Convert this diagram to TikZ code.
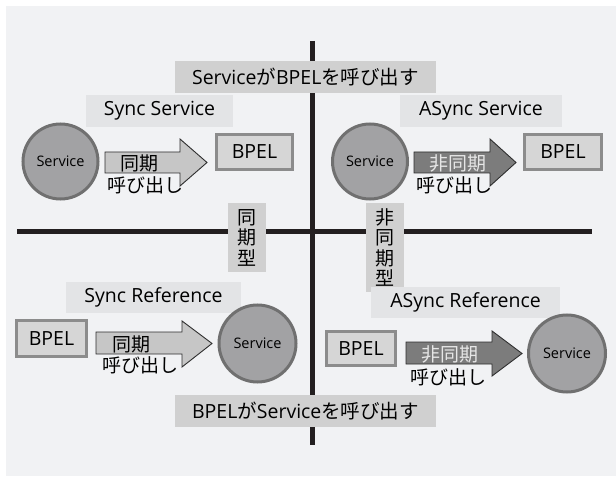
\documentclass[tikz,border=0pt]{standalone}
\usepackage{fontspec}
\setmainfont{Open Sans}
\newfontfamily\jp{Noto Sans CJK JP}
\definecolor{panel}{HTML}{F1F2F4}
\definecolor{axis}{HTML}{231F20}
\definecolor{titlegray}{HTML}{D0D0D0}
\definecolor{labelgray}{HTML}{E3E4E6}
\definecolor{svcfill}{HTML}{A2A2A4}
\definecolor{svcedge}{HTML}{707070}
\definecolor{bpelfill}{HTML}{D6D6D6}
\definecolor{bpeledge}{HTML}{8C8C8C}
\definecolor{arrowlightfill}{HTML}{C6C6C6}
\definecolor{arrowdarkfill}{HTML}{7C7C7C}
\definecolor{arrowedge}{HTML}{2E2E2E}
\definecolor{lighttext}{HTML}{E6E6E6}
\tikzset{
  big/.style={font=\fontsize{19.5}{21}\selectfont, text=black},
  greybox/.style={big, fill=titlegray, inner sep=0pt},
  labelbox/.style={big, fill=labelgray, inner sep=0pt},
  bpelbox/.style={big, draw=bpeledge, line width=3pt, fill=bpelfill, inner sep=0pt},
  svc/.style={circle, draw=svcedge, line width=3pt, fill=svcfill, inner sep=0pt,
    font=\fontsize{14.5}{16}\selectfont},
  blocklight/.style={draw=arrowedge, line width=0.9pt, fill=arrowlightfill, line join=miter},
  blockdark/.style={draw=arrowedge, line width=0.9pt, fill=arrowdarkfill, line join=miter},
  jtext/.style={font=\jp\fontsize{19}{21}\selectfont, inner sep=0pt},
  vlabel/.style={fill=titlegray, inner sep=0pt, align=center,
    font=\jp\fontsize{19}{20.5}\selectfont},
}
\begin{document}
\begin{tikzpicture}[x=1pt, y=-1pt]
  \useasboundingbox (0,0) rectangle (616,489);
  % background panel
  \fill[panel] (6,6) rectangle (616,476);

  % axes
  \coordinate (hl) at (17,232);
  \coordinate (hr) at (592,232);
  \coordinate (vt) at (312,41);
  \coordinate (vb) at (312,445);
  \draw[axis, line width=5pt] (hl) -- (hr);
  \draw[axis, line width=5pt] (vt) -- (vb);

  % headings
  \node[greybox, minimum width=261pt, minimum height=32pt] (toptitle) at (305.5,77)
    {Service{\jp が}BPEL{\jp を呼び出す}};
  \node[greybox, minimum width=261pt, minimum height=32pt] (bottitle) at (305.5,411)
    {BPEL{\jp が}Service{\jp を呼び出す}};
  \node[vlabel, minimum width=38pt, minimum height=69pt] (synclbl) at (247,237.5)
    {同\\期\\型};
  \node[vlabel, minimum width=38pt, minimum height=89pt] (asynclbl) at (385,247.5)
    {非\\同\\期\\型};

  % quadrant labels
  \node[labelbox, minimum width=147pt, minimum height=32pt] (ss) at (159.5,111) {Sync Service};
  \node[labelbox, minimum width=162pt, minimum height=32pt] (as) at (481,111) {ASync Service};
  \node[labelbox, minimum width=175pt, minimum height=31pt] (sr) at (153.5,297.5) {Sync Reference};
  \node[labelbox, minimum width=189pt, minimum height=31pt] (ar) at (465.5,302.5) {ASync Reference};

  % services and BPEL boxes
  \node[svc, minimum size=75pt] (svc1) at (60.5,161.5) {Service};
  \node[svc, minimum size=75pt] (svc2) at (370,161.5) {Service};
  \node[svc, minimum size=77pt] (svc3) at (257.5,343.5) {Service};
  \node[svc, minimum size=77pt] (svc4) at (567,353.5) {Service};
  \node[bpelbox, minimum width=76pt, minimum height=35pt] (bp1) at (254.5,152) {BPEL};
  \node[bpelbox, minimum width=77pt, minimum height=35pt] (bp2) at (563,152) {BPEL};
  \node[bpelbox, minimum width=70pt, minimum height=36pt] (bp3) at (51.5,338.5) {BPEL};
  \node[bpelbox, minimum width=69pt, minimum height=34pt] (bp4) at (361,348.5) {BPEL};

  % block arrows
  \draw[blocklight] (105,152) -- (180,152) -- (180,139) -- (207,162.5)
    -- (180,186) -- (180,173) -- (105,173) -- cycle;
  \draw[blockdark] (414,152) -- (490,152) -- (490,139) -- (516,162.5)
    -- (490,186) -- (490,173) -- (414,173) -- cycle;
  \draw[blocklight] (96,332) -- (182,332) -- (182,321) -- (212,343.5)
    -- (182,367) -- (182,354) -- (96,354) -- cycle;
  \draw[blockdark] (406,342) -- (492,342) -- (492,331) -- (522,353.5)
    -- (492,376) -- (492,364) -- (406,364) -- cycle;

  % arrow captions
  \node[jtext] (c1a) at (139,163) {同期};
  \node[jtext] (c1b) at (145,185) {呼び出し};
  \node[jtext, text=lighttext] (c2a) at (458,163) {非同期};
  \node[jtext] (c2b) at (454.5,185) {呼び出し};
  \node[jtext] (c3a) at (131,344) {同期};
  \node[jtext] (c3b) at (140,365) {呼び出し};
  \node[jtext, text=lighttext] (c4a) at (450,354) {非同期};
  \node[jtext] (c4b) at (448,377) {呼び出し};
\end{tikzpicture}
\end{document}
